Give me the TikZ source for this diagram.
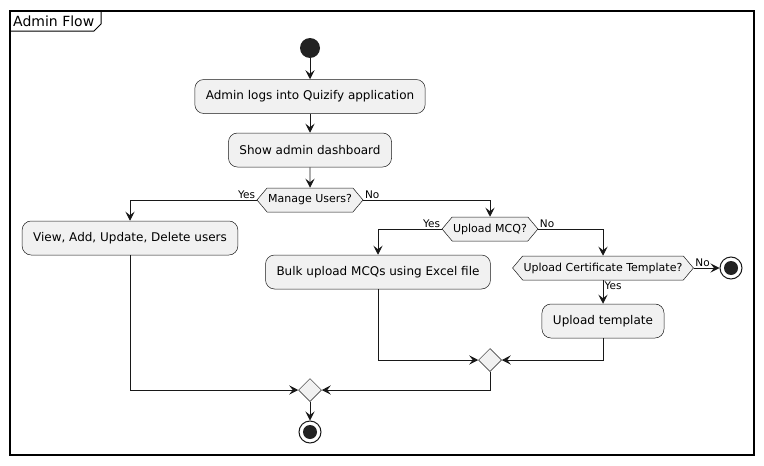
\documentclass[tikz,border=0pt]{standalone}
\usepackage{fontspec}
\setmainfont{DejaVu Sans}
\usetikzlibrary{shapes.symbols,shapes.geometric,arrows.meta,positioning}
\definecolor{actfill}{HTML}{F1F1F1}
\definecolor{actline}{HTML}{181818}
\definecolor{dotfill}{HTML}{222222}
\tikzset{
  action/.style={draw=actline, fill=actfill, rounded corners=9pt, line width=0.5pt,
    minimum height=34pt, inner xsep=11pt, font=\fontsize{12}{14}\selectfont},
  decision/.style={signal, signal to=west and east, signal pointer angle=100, draw=actline,
    fill=actfill, line width=0.5pt, minimum height=24pt, inner xsep=1pt, inner ysep=2pt,
    font=\fontsize{11}{13}\selectfont},
  merge/.style={diamond, draw=actline, fill=actfill, line width=0.5pt, minimum size=23pt, inner sep=0pt},
  startdot/.style={circle, fill=dotfill, minimum size=20pt, inner sep=0pt},
  stopdot/.style={circle, draw=actline, fill=white, line width=1pt, minimum size=22pt, inner sep=0pt,
    path picture={\fill[dotfill] (path picture bounding box.center) circle (7pt);}},
  flow/.style={draw=actline, line width=0.9pt, -{Stealth[length=9pt,width=9pt,inset=3.5pt]}},
  guard/.style={font=\fontsize{10.5}{12}\selectfont, inner sep=1.5pt},
}
\begin{document}
\begin{tikzpicture}[x=1pt,y=-1pt]
    \useasboundingbox (0,0) rectangle (764,466);
    % frame
    \draw[line width=1.3pt] (10,11) rectangle (754,455);
    \draw[line width=1pt] (10,31) -- (94,31) -- (101,24) -- (101,11);
    \node[anchor=base west, inner sep=0pt, font=\fontsize{14}{16}\selectfont] (title) at (13,26.5) {Admin Flow};

    \node (start) [startdot] at (310,48) {};
    \node (login) [action] at (310,96.5) {Admin logs into Quizify application};
    \node (dash) [action] at (310,150) {Show admin dashboard};
    \node (users) [decision] at (310,200) {Manage Users?};
    \node (view) [action] at (130,238) {View, Add, Update, Delete users};
    \node (mcq) [decision] at (490,229) {Upload MCQ?};
    \node (bulk) [action] at (378,272) {Bulk upload MCQs using Excel file};
    \node (cert) [decision] at (603,268) {Upload Certificate Template?};
    \node (stopc) [stopdot] at (731,268) {};
    \node (tmpl) [action] at (603,321) {Upload template};
    \node (m1) [merge] at (490,360) {};
    \node (m2) [merge] at (310,390) {};
    \node (stop) [stopdot] at (310,432) {};

    \path (start) edge [flow] (login);
    \path (login) edge [flow] (dash);
    \path (dash) edge [flow] (users);
    \draw[flow] (users.west) -| (view.north);
    \node[guard, anchor=south east] at (users.west) {Yes};
    \draw[flow] (users.east) -| (mcq.north);
    \node[guard, anchor=south west] at (users.east) {No};
    \draw[flow] (mcq.west) -| (bulk.north);
    \node[guard, anchor=south east] at (mcq.west) {Yes};
    \draw[flow] (mcq.east) -| (cert.north);
    \node[guard, anchor=south west] at (mcq.east) {No};
    \path (cert.east) edge [flow] (stopc.west);
    \node[guard, anchor=south west] at (cert.east) {No};
    \path (cert.south) edge [flow] (tmpl.north);
    \node[guard, anchor=north west] at (cert.south) {Yes};
    \draw[flow] (bulk.south) |- (m1.west);
    \draw[flow] (tmpl.south) |- (m1.east);
    \draw[flow] (view.south) |- (m2.west);
    \draw[flow] (m1.south) |- (m2.east);
    \path (m2) edge [flow] (stop);
\end{tikzpicture}
\end{document}
